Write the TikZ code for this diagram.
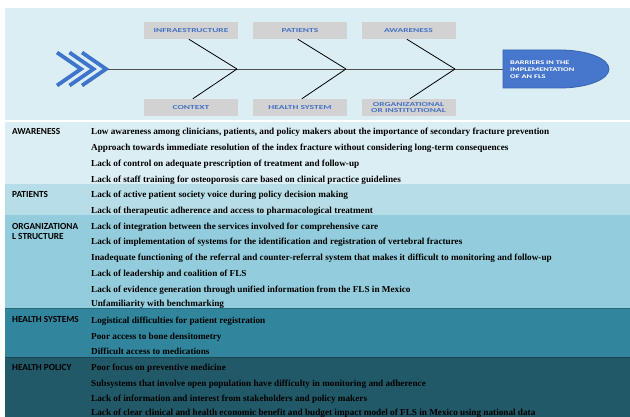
\documentclass[tikz,border=0pt]{standalone}
\usepackage{fontspec}
\setmainfont{Liberation Serif}
\newfontfamily\lab{Carlito}
\usetikzlibrary{calc}
\definecolor{panel}{HTML}{DBEEF4}
\definecolor{rowA}{HTML}{DBEEF4}
\definecolor{rowB}{HTML}{B7DEE8}
\definecolor{rowC}{HTML}{93CDDD}
\definecolor{rowD}{HTML}{31859C}
\definecolor{rowE}{HTML}{215968}
\definecolor{boxgrey}{HTML}{D2D2D2}
\definecolor{fbblue}{HTML}{4472C4}
\definecolor{chevblue}{HTML}{3E74CC}
\definecolor{goalblue}{HTML}{4777CC}
\definecolor{goalrim}{HTML}{3763AE}
\definecolor{spinegrey}{HTML}{505050}
\newcommand{\stretchtxt}[1]{\scalebox{1.55}[1]{#1}}
\tikzset{
  fbox/.style={fill=boxgrey, minimum width=94pt, minimum height=17pt, inner sep=0pt,
    font=\lab\bfseries\fontsize{6.1}{6.5}\selectfont, text=fbblue, align=center},
  bone/.style={draw=black, line width=0.8pt},
  chev/.style={draw=chevblue, line width=3.8pt, miter limit=10},
  rowlabel/.style={anchor=base west, inner sep=0pt, font=\lab\bfseries\fontsize{9.3}{9.5}\selectfont, align=left},
  item/.style={anchor=base west, inner sep=0pt, font=\bfseries\fontsize{9.2}{10}\selectfont}
}
\begin{document}
\begin{tikzpicture}[x=1pt,y=-1pt]
\useasboundingbox (0,0) rectangle (630,417);
\fill[white] (0,0) rectangle (630,417);
% fishbone panel
\fill[panel] (5,8) rectangle (630,120);

% category boxes
\node[fbox] (infra) at (191,30.5) {\stretchtxt{INFRAESTRUCTURE}};
\node[fbox] (pat) at (300,30.5) {\stretchtxt{PATIENTS}};
\node[fbox] (awa) at (408.5,30.5) {\stretchtxt{AWARENESS}};
\node[fbox] (ctx) at (191,107.5) {\stretchtxt{CONTEXT}};
\node[fbox] (hsys) at (300,107.5) {\stretchtxt{HEALTH SYSTEM}};
\node[fbox] (org) at (408.5,107.5) {\stretchtxt{\shortstack{ORGANIZATIONAL\\[-1pt]OR INSTITUTIONAL}}};

% spine vertices
\coordinate (v1) at (237,69);
\coordinate (v2) at (346,69);
\coordinate (v3) at (455,69);
\coordinate (tail) at (108,69);
\coordinate (goalW) at (503,69);

% chevrons
\foreach \dx in {0,12.5,25}{
  \draw[chev] ($(tail)+(-51+\dx,-16.5)$) -- ($(tail)+(-27+\dx,0)$) -- ($(tail)+(-51+\dx,16.5)$);
}
% spine
\draw[draw=spinegrey, line width=0.9pt] (tail) -- (goalW);

% bones
\draw[bone] ($(infra.south west)+(45,0)$) -- (v1);
\draw[bone] ($(ctx.north west)+(49,0)$) -- (v1);
\draw[bone] ($(pat.south west)+(45,0)$) -- (v2);
\draw[bone] ($(hsys.north west)+(49,0)$) -- (v2);
\draw[bone] ($(awa.south west)+(45.5,0)$) -- (v3);
\draw[bone] ($(org.north west)+(48.5,0)$) -- (v3);

% goal head
\filldraw[fill=goalblue, draw=goalrim, line width=0.8pt]
  (503,50) -- (560,50) arc[start angle=-90, end angle=90, x radius=49, y radius=19] -- (503,88) -- cycle;
\node[anchor=west, inner sep=0pt, text=white, font=\lab\bfseries\fontsize{5.6}{6.2}\selectfont, align=left] (goal) at (510,69.5)
  {\scalebox{1.5}[1]{\shortstack[l]{BARRIERS IN THE\\IMPLEMENTATION\\OF AN FLS}}};

% table rows
\fill[rowA] (5,122) rectangle (630,184.5);
\fill[rowB] (5,184.5) rectangle (630,215.5);
\fill[rowC] (5,215.5) rectangle (630,308);
\fill[rowD] (5,308) rectangle (630,357);
\fill[rowE] (5,357) rectangle (630,417);
\draw[rowD!80!black, line width=0.4pt] (5,308) -- (630,308);
\draw[rowE!80!black, line width=0.4pt] (5,357) -- (630,357);

% labels
\node[rowlabel] (lA) at (12,135) {AWARENESS};
\node[rowlabel] (lB) at (12,198) {PATIENTS};
\node[rowlabel] (lC) at (12,239.5) {ORGANIZATIONA\\L STRUCTURE};
\node[rowlabel] (lD) at (12,323) {HEALTH SYSTEMS};
\node[rowlabel] (lE) at (12,370.5) {HEALTH POLICY};

% items
\node[item] (i1) at (91,135.0) {Low awareness among clinicians, patients, and policy makers about the importance of secondary fracture prevention};
\node[item] (i2) at (91,150.7) {Approach towards immediate resolution of the index fracture without considering long-term consequences};
\node[item] (i3) at (91,166.4) {Lack of control on adequate prescription of treatment and follow-up};
\node[item] (i4) at (91,182.1) {Lack of staff training for osteoporosis care based on clinical practice guidelines};
\node[item] (i5) at (91,197.8) {Lack of active patient society voice during policy decision making};
\node[item] (i6) at (91,213.5) {Lack of therapeutic adherence and access to pharmacological treatment};
\node[item] (i7) at (91,229.2) {Lack of integration between the services involved for comprehensive care};
\node[item] (i8) at (91,244.9) {Lack of implementation of systems for the identification and registration of vertebral fractures};
\node[item] (i9) at (91,260.6) {Inadequate functioning of the referral and counter-referral system that makes it difficult to monitoring and follow-up};
\node[item] (i10) at (91,276.3) {Lack of leadership and coalition of FLS};
\node[item] (i11) at (91,292.0) {Lack of evidence generation through unified information from the FLS in Mexico};
\node[item] (i12) at (91,306.5) {Unfamiliarity with benchmarking};
\node[item] (i13) at (91,323.4) {Logistical difficulties for patient registration};
\node[item] (i14) at (91,339.1) {Poor access to bone densitometry};
\node[item] (i15) at (91,354.8) {Difficult access to medications};
\node[item] (i16) at (91,370.5) {Poor focus on preventive medicine};
\node[item] (i17) at (91,386.2) {Subsystems that involve open population have difficulty in monitoring and adherence};
\node[item] (i18) at (91,401.9) {Lack of information and interest from stakeholders and policy makers};
\node[item] (i19) at (91,415.0) {Lack of clear clinical and health economic benefit and budget impact model of FLS in Mexico using national data};
\end{tikzpicture}
\end{document}
